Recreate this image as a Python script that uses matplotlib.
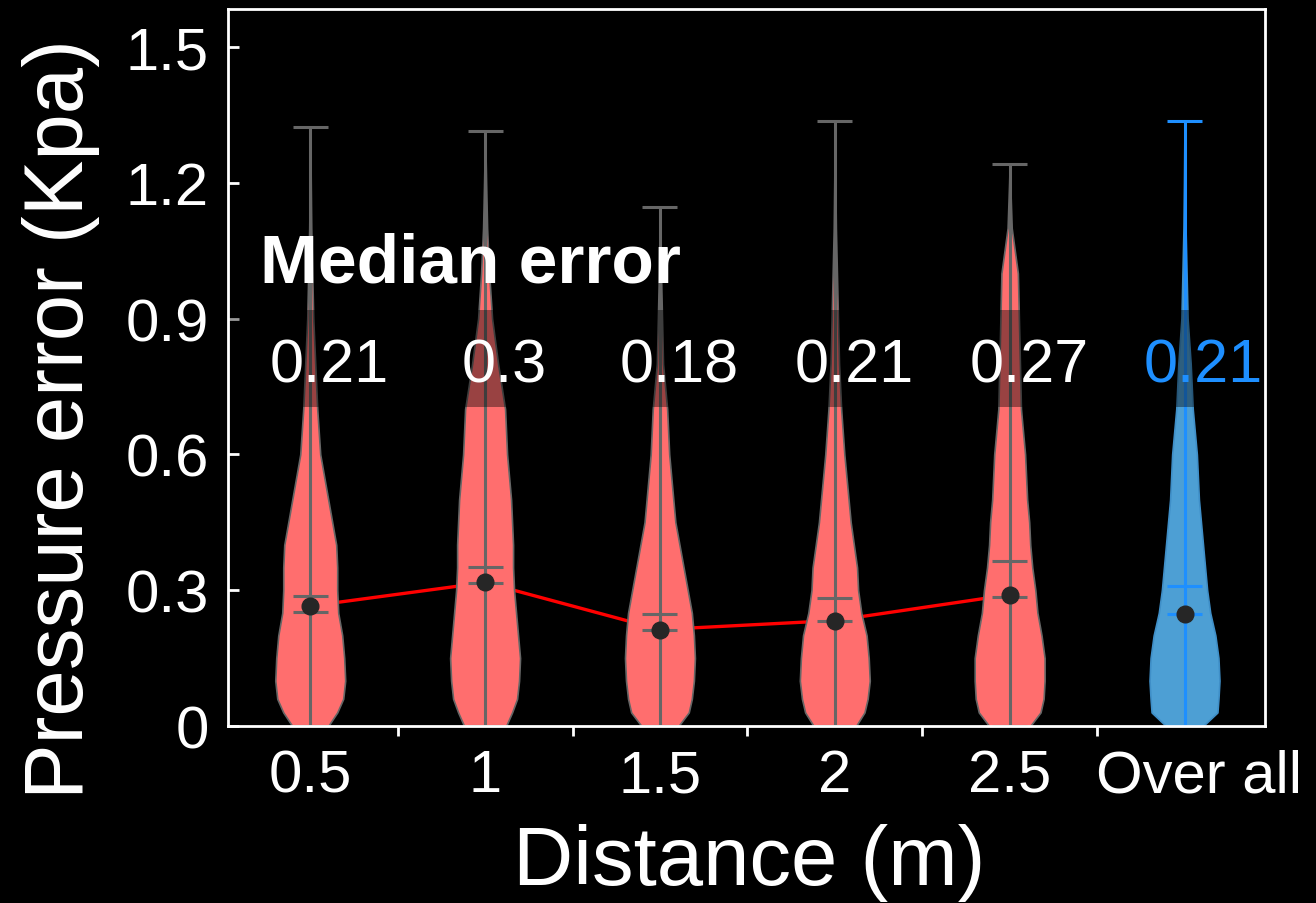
import numpy as np
import matplotlib
matplotlib.use('Agg')
import matplotlib.pyplot as plt
import matplotlib.transforms as mtransforms
from matplotlib.ticker import FixedLocator

# ----------
# Data

labels = ['0.5', '1', '1.5', '2', '2.5', 'Over all']
median_text = ['0.21', '0.3', '0.18', '0.21', '0.27', '0.21']

# y grid on which the violin outlines were read (Kpa)
grid = [0.0, 0.03, 0.06, 0.1, 0.15, 0.2, 0.25, 0.3, 0.35, 0.4, 0.45,
        0.5, 0.6, 0.7, 0.8, 0.9, 1.0, 1.1, 1.2]

# relative half widths of each violin on that grid
dens_05 = [18, 27, 33, 35, 34, 32, 28, 27, 27, 26, 22, 18, 10, 7, 5, 3, 2, 1, 0.5]
dens_10 = [21, 27, 32, 34, 35, 33, 31, 29, 28, 28, 27, 26, 22, 20, 13, 7, 4, 2, 1]
dens_15 = [18, 28, 31, 33, 34, 33, 31, 27, 23, 19, 15, 13, 9, 7, 3, 2, 1, 0.3]
dens_20 = [20, 28, 31, 33, 32, 30, 25, 22, 21, 18, 15, 13, 9, 6, 4, 3, 2, 1, 0.5]
dens_25 = [20, 30, 33, 34, 34, 31, 27, 25, 22, 20, 19, 17, 15, 11, 10, 9, 8, 2, 0.5]
dens_all = [18, 32, 33, 34, 33, 30, 25, 22, 20, 18, 16, 14, 12, 8, 6, 3, 2, 1, 0.5]
densities = [dens_05, dens_10, dens_15, dens_20, dens_25, dens_all]

err_max = [1.323, 1.314, 1.146, 1.336, 1.242, 1.337]
err_mean = [0.288, 0.352, 0.248, 0.283, 0.364, 0.309]
err_median = [0.252, 0.316, 0.212, 0.233, 0.286, 0.247]
dot_values = [0.265, 0.317, 0.213, 0.233, 0.290, 0.247]

# ----------

plt.rcParams['font.family'] = 'Liberation Sans'

red_face = '#ff6e6e'
blue_face = '#4d9fd4'
gray_line = '#666666'
blue_line = '#1e8fff'

fig = plt.figure(figsize=(13.16, 9.04), dpi=100, facecolor='black')
ax = fig.add_axes([0.1733, 0.1958, 0.7879, 0.7932])
ax.set_facecolor('black')

positions = np.arange(1, len(labels) + 1)

# build violin stats from the read outlines
vpstats = []
for i, d in enumerate(densities):
    coords = list(grid[:len(d)]) + [err_max[i]]
    vals = list(d) + [0.0]
    vpstats.append(dict(coords=np.array(coords), vals=np.array(vals),
                        mean=err_mean[i], median=err_median[i],
                        min=0.0, max=err_max[i]))

def style(parts, face, edge, line):
    for b in parts['bodies']:
        b.set_facecolor(face)
        b.set_edgecolor(edge)
        b.set_linewidth(1.2)
        b.set_alpha(1)
    for key in ['cbars', 'cmaxes', 'cmins', 'cmeans', 'cmedians']:
        parts[key].set_color(line)
        parts[key].set_linewidth(2.2)

parts = ax.violin(vpstats[:5], positions=positions[:5], widths=0.4,
                  showmeans=True, showmedians=True, showextrema=True)
style(parts, red_face, gray_line, gray_line)

parts = ax.violin(vpstats[5:], positions=positions[5:], widths=0.4,
                  showmeans=True, showmedians=True, showextrema=True)
style(parts, blue_face, '#3f8fc8', blue_line)

# red trend line behind the violins
ax.plot(positions[:5], dot_values[:5], color='red', lw=2.4, zorder=0.5)
ax.plot(positions, dot_values, 'o', color='#262626', ms=12, zorder=4)

# shaded band behind the text
ax.axhspan(0.705, 0.92, color='black', alpha=0.4, lw=0, zorder=5)

for i, t in enumerate(median_text):
    c = blue_line if i == len(median_text) - 1 else 'white'
    ax.text(positions[i] + 0.11, 0.76, t, color=c, fontsize=44,
            ha='center', va='baseline', zorder=6)
ax.text(0.715, 0.983, 'Median error', color='white', fontsize=50,
        fontweight='bold', ha='left', va='baseline', zorder=6)

# axes
ax.set_xlim(0.53, 6.46)
ax.set_ylim(0, 1.584)
ax.set_xticks(positions)
ax.set_xticklabels(labels)
ax.xaxis.set_minor_locator(FixedLocator(positions[:-1] + 0.5))
ax.set_yticks([0, 0.3, 0.6, 0.9, 1.2, 1.5])
ax.set_yticklabels(['0', '0.3', '0.6', '0.9', '1.2', '1.5'])

ax.tick_params(axis='x', which='major', length=0, pad=16, labelsize=43,
               labelcolor='white')
ax.tick_params(axis='x', which='minor', length=7, width=2, direction='out',
               color='white')
ax.tick_params(axis='y', which='major', length=8, width=2, direction='in',
               pad=14, labelsize=43, labelcolor='white', color='white')

# the last label sits a little to the right in the original
last = ax.get_xticklabels()[-1]
last.set_transform(last.get_transform() +
                   mtransforms.ScaledTranslation(0.14, 0, fig.dpi_scale_trans))

for s in ax.spines.values():
    s.set_color('white')
    s.set_linewidth(2)
    s.set_zorder(10)

fig.text(0.569, 1 - 885 / 904, 'Distance (m)', color='white', fontsize=60,
         ha='center', va='baseline')
fig.text(0.0464, 0.5365, 'Pressure error (Kpa)', color='white', fontsize=60,
         rotation=90, ha='center', va='center')

plt.savefig('out.png', facecolor='black')
